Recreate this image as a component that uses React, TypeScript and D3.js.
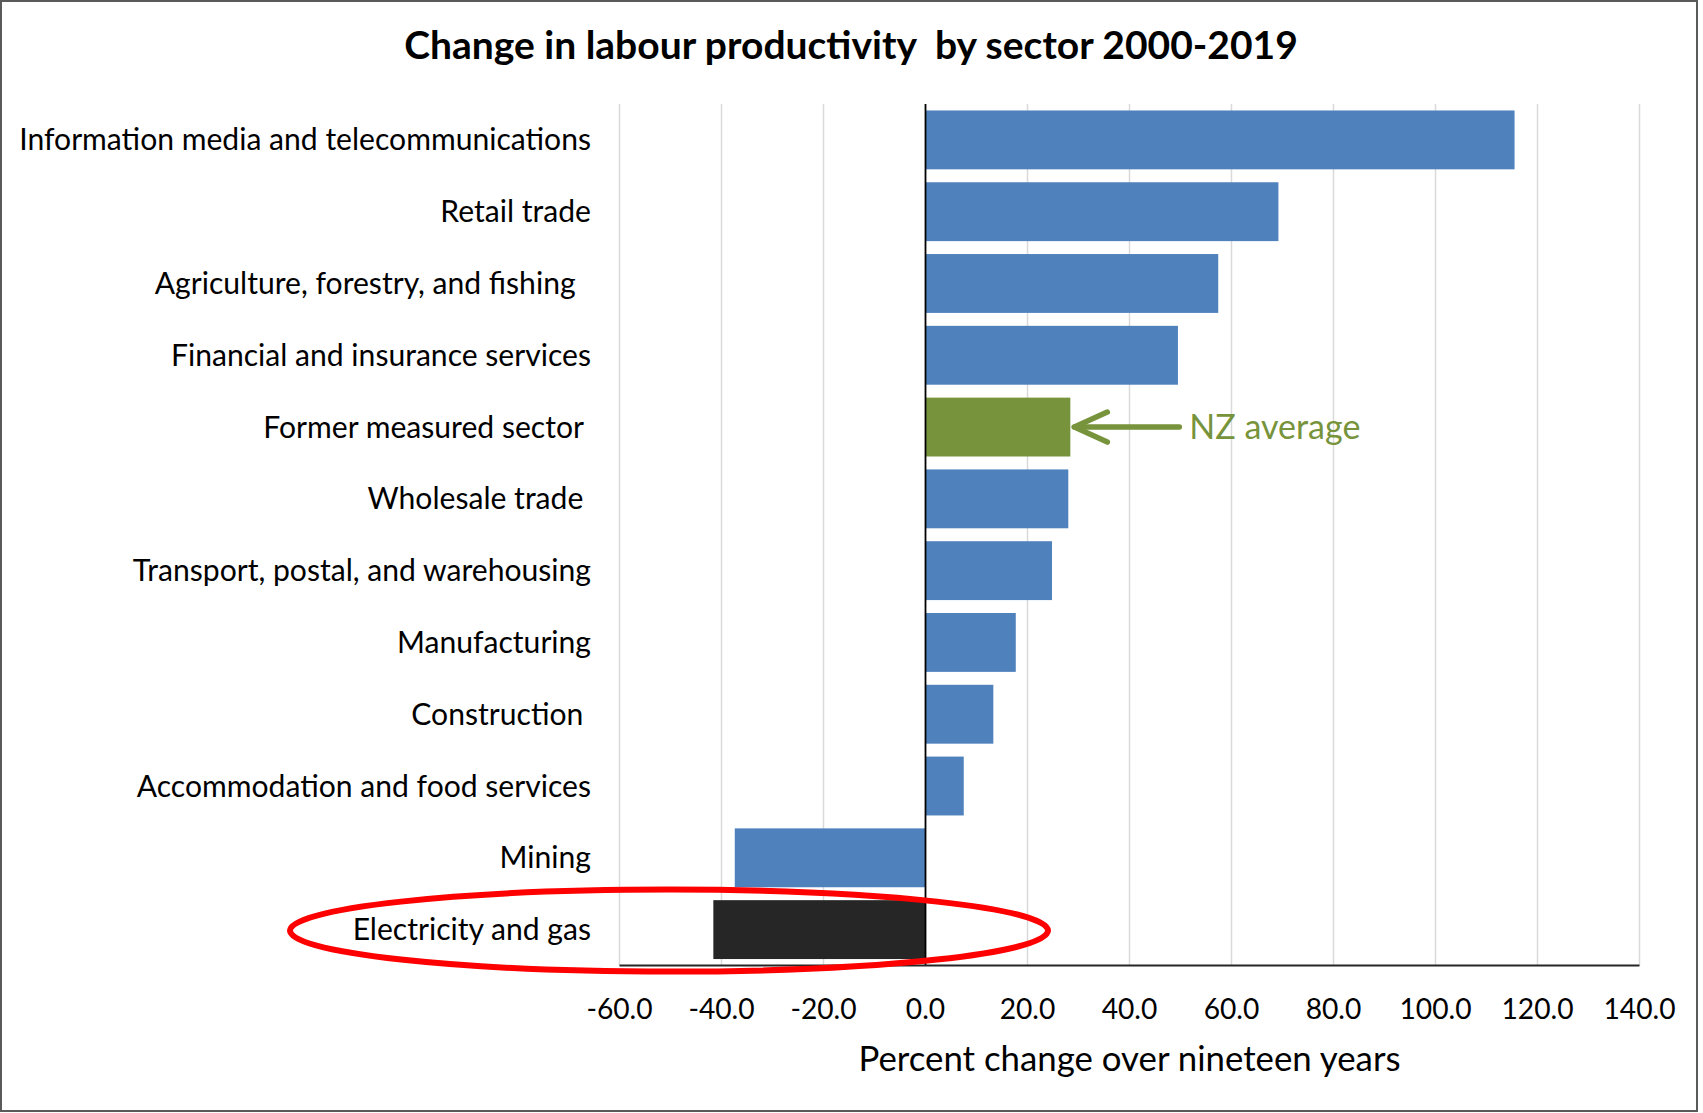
import React from "react";
import * as d3 from "d3";

const categories = [
  "Information media and telecommunications",
  "Retail trade",
  "Agriculture, forestry, and fishing  ",
  "Financial and insurance services",
  "Former measured sector ",
  "Wholesale trade ",
  "Transport, postal, and warehousing",
  "Manufacturing",
  "Construction ",
  "Accommodation and food services",
  "Mining",
  "Electricity and gas",
];
const values = [115.5, 69.2, 57.4, 49.5, 28.4, 28.0, 24.8, 17.7, 13.3, 7.5, -37.4, -41.6];
const groups = ["sector", "sector", "sector", "sector", "average", "sector", "sector", "sector", "sector", "sector", "sector", "highlight"];
const tickValues = [-60, -40, -20, 0, 20, 40, 60, 80, 100, 120, 140];
const title = "Change in labour productivity  by sector 2000-2019";
const xTitle = "Percent change over nineteen years";
const annotation = "NZ average";
const highlightCategory = "Electricity and gas";
const averageCategory = "Former measured sector ";

const W = 1703;
const H = 1113;
const FONT = "Lato, 'Open Sans', sans-serif";
const colors: Record<string, string> = {
  sector: "#4F81BD",
  average: "#77933C",
  highlight: "#262626",
};

export default function App() {
  const left = 619.5;
  const right = 1639.5;
  const top = 104;
  const bottom = 965.5;

  const x = d3.scaleLinear().domain([-60, 140]).range([left, right]);
  const y = d3
    .scaleBand<string>()
    .domain(categories)
    .range([top, bottom])
    .paddingInner(0.18)
    .paddingOuter(0.09);

  const avgY = (y(averageCategory) ?? 0) + y.bandwidth() / 2;
  const avgVal = values[categories.indexOf(averageCategory)];
  const tipX = x(avgVal) + 4;
  const tailX = tipX + 105;

  const hlY = (y(highlightCategory) ?? 0) + y.bandwidth() / 2;

  return (
    <svg
      width={W}
      height={H}
      style={{ position: "absolute", left: 0, top: 0, background: "#fff" }}
      fontFamily={FONT}
    >
      <rect x={1} y={1} width={W - 7} height={H - 3} fill="#fff" stroke="#5a5a5a" strokeWidth={2} />
      <text
        x={851}
        y={59}
        textAnchor="middle"
        fontSize={39}
        fontWeight={700}
        fill="#000"
        style={{ whiteSpace: "pre" }}
      >
        {title}
      </text>

      {tickValues.map((t) => (
        <line
          key={"g" + t}
          x1={x(t)}
          x2={x(t)}
          y1={top}
          y2={bottom}
          stroke={t === 0 ? "none" : "#D9D9D9"}
          strokeWidth={1.5}
        />
      ))}

      {categories.map((c, i) => {
        const v = values[i];
        const y0 = y(c) ?? 0;
        return (
          <rect
            key={c}
            x={Math.min(x(0), x(v))}
            y={y0}
            width={Math.abs(x(v) - x(0))}
            height={y.bandwidth()}
            fill={colors[groups[i]]}
          />
        );
      })}

      <line x1={x(0)} x2={x(0)} y1={top} y2={bottom} stroke="#000" strokeWidth={1.8} />
      <line x1={left} x2={right} y1={bottom} y2={bottom} stroke="#262626" strokeWidth={2.2} />

      {categories.map((c) => (
        <text
          key={"l" + c}
          x={591}
          y={(y(c) ?? 0) + y.bandwidth() / 2}
          dy="0.35em"
          textAnchor="end"
          fontSize={30.1}
          fill="#000"
          style={{ whiteSpace: "pre" }}
        >
          {c}
        </text>
      ))}

      {tickValues.map((t) => (
        <text key={"t" + t} x={x(t)} y={1019} textAnchor="middle" fontSize={28.2} fill="#000">
          {t.toFixed(1)}
        </text>
      ))}

      <text x={(left + right) / 2} y={1071} textAnchor="middle" fontSize={34.8} fill="#000">
        {xTitle}
      </text>

      <g stroke="#77933C" strokeWidth={5.5} strokeLinecap="round" strokeLinejoin="round" fill="none">
        <line x1={tailX} x2={tipX} y1={avgY} y2={avgY} />
        <polyline points={`${tipX + 33},${avgY - 15} ${tipX},${avgY} ${tipX + 33},${avgY + 15}`} />
      </g>
      <text x={tailX + 10} y={avgY} dy="0.35em" fontSize={34} fill="#77933C">
        {annotation}
      </text>

      <ellipse cx={669} cy={hlY + 1} rx={379} ry={41} fill="none" stroke="#FF0000" strokeWidth={6} />
    </svg>
  );
}
